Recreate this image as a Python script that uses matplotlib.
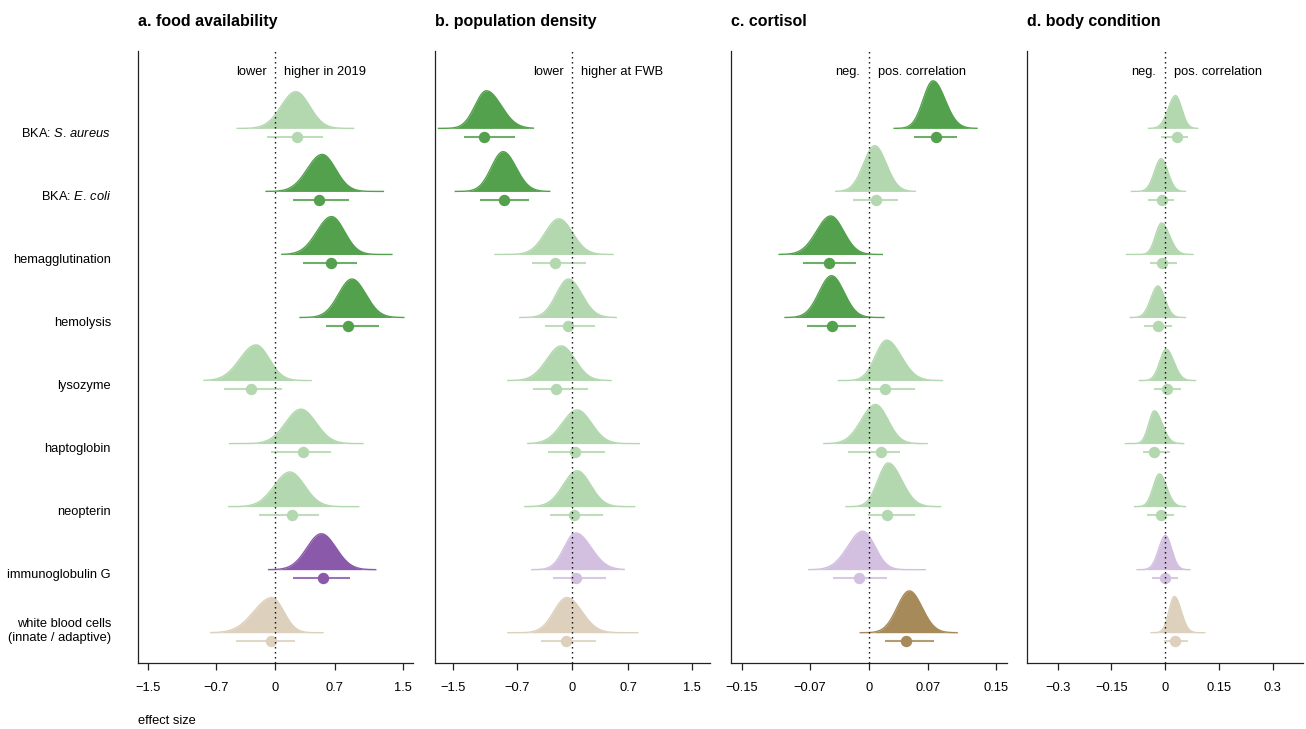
import numpy as np
import matplotlib
matplotlib.use("Agg")
import matplotlib.pyplot as plt

plt.rcParams['font.family'] = ['Liberation Sans', 'DejaVu Sans']
plt.rcParams['mathtext.fontset'] = 'custom'
plt.rcParams['mathtext.rm'] = 'Liberation Sans'
plt.rcParams['mathtext.it'] = 'Liberation Sans:italic'

# rows, top to bottom
labels = [r'BKA: $\mathit{S}$. $\mathit{aureus}$', r'BKA: $\mathit{E}$. $\mathit{coli}$',
          'hemagglutination', 'hemolysis', 'lysozyme', 'haptoglobin', 'neopterin',
          'immunoglobulin G', 'white blood cells\n(innate / adaptive)']
groups = ['green'] * 7 + ['purple', 'brown']

titles = ['a. food availability', 'b. population density', 'c. cortisol', 'd. body condition']
left_notes = ['lower', 'lower', 'neg.', 'neg.']
right_notes = ['higher in 2019', 'higher at FWB', 'pos. correlation', 'pos. correlation']

# posterior estimates (dot), 95% interval, density peak and sample range
food_est = [0.25, 0.51, 0.65, 0.85, -0.29, 0.32, 0.19, 0.565, -0.05]
food_lo = [-0.10, 0.205, 0.32, 0.59, -0.60, -0.054, -0.19, 0.205, -0.46]
food_hi = [0.56, 0.86, 0.96, 1.22, 0.08, 0.65, 0.51, 0.88, 0.23]
food_peak = [0.24, 0.55, 0.66, 0.90, -0.23, 0.30, 0.17, 0.54, -0.04]
food_min = [-0.45, -0.11, 0.075, 0.29, -0.84, -0.54, -0.55, -0.08, -0.76]
food_max = [0.92, 1.27, 1.37, 1.51, 0.42, 1.03, 0.98, 1.18, 0.56]

dens_est = [-1.11, -0.86, -0.22, -0.06, -0.21, 0.03, 0.02, 0.04, -0.075]
dens_lo = [-1.36, -1.16, -0.51, -0.35, -0.50, -0.31, -0.285, -0.24, -0.39]
dens_hi = [-0.715, -0.55, 0.17, 0.28, 0.20, 0.41, 0.39, 0.42, 0.30]
dens_peak = [-1.08, -0.87, -0.17, -0.05, -0.14, 0.06, 0.06, 0.04, -0.07]
dens_min = [-1.68, -1.47, -0.97, -0.66, -0.81, -0.56, -0.60, -0.51, -0.81]
dens_max = [-0.49, -0.285, 0.51, 0.55, 0.485, 0.84, 0.78, 0.65, 0.82]

cort_est = [0.080, 0.009, -0.047, -0.044, 0.019, 0.015, 0.022, -0.012, 0.044]
cort_lo = [0.053, -0.019, -0.078, -0.073, -0.005, -0.025, -0.001, -0.042, 0.0195]
cort_hi = [0.104, 0.034, -0.015, -0.015, 0.055, 0.037, 0.0545, 0.021, 0.0775]
cort_peak = [0.076, 0.007, -0.045, -0.044, 0.021, 0.008, 0.023, -0.007, 0.048]
cort_min = [0.030, -0.039, -0.106, -0.099, -0.036, -0.053, -0.027, -0.071, -0.010]
cort_max = [0.128, 0.055, 0.016, 0.018, 0.087, 0.069, 0.085, 0.067, 0.1045]

body_est = [0.032, -0.008, -0.010, -0.020, 0.006, -0.030, -0.011, 0.0, 0.029]
body_lo = [-0.011, -0.048, -0.043, -0.059, -0.032, -0.061, -0.050, -0.036, -0.004]
body_hi = [0.063, 0.026, 0.034, 0.018, 0.045, 0.013, 0.024, 0.035, 0.063]
body_peak = [0.029, -0.011, -0.010, -0.020, 0.003, -0.030, -0.016, 0.001, 0.026]
body_min = [-0.046, -0.094, -0.108, -0.097, -0.072, -0.111, -0.085, -0.078, -0.039]
body_max = [0.091, 0.057, 0.078, 0.057, 0.085, 0.052, 0.057, 0.069, 0.111]

panels = [
    (food_est, food_lo, food_hi, food_peak, food_min, food_max),
    (dens_est, dens_lo, dens_hi, dens_peak, dens_min, dens_max),
    (cort_est, cort_lo, cort_hi, cort_peak, cort_min, cort_max),
    (body_est, body_lo, body_hi, body_peak, body_min, body_max),
]

tick_vals = [[-1.5, -0.7, 0, 0.7, 1.5], [-1.5, -0.7, 0, 0.7, 1.5],
             [-0.15, -0.07, 0, 0.07, 0.15], [-0.3, -0.15, 0, 0.15, 0.3]]
tick_labels = [['\u22121.5', '\u22120.7', '0', '0.7', '1.5'],
               ['\u22121.5', '\u22120.7', '0', '0.7', '1.5'],
               ['\u22120.15', '\u22120.07', '0', '0.07', '0.15'],
               ['\u22120.3', '\u22120.15', '0', '0.15', '0.3']]
xlims = [1.621, 1.729, 0.1629, 0.3846]
dens_scale = [0.246, 0.246, 0.0246, 0.0246]

colors = {
    'green': ('#53a04d', '#b3d8af'),
    'purple': ('#8a59a9', '#d3bfe0'),
    'brown': ('#a68a5a', '#ddd1bd'),
}

n = len(labels)
row_y = np.arange(n)[::-1].astype(float)
base_off = 0.132

fig = plt.figure(figsize=(13.06, 7.29), dpi=100)
lefts = [0.1054, 0.3328, 0.5597, 0.7866]

for p, (est, lo, hi, peak, tmin, tmax) in enumerate(panels):
    ax = fig.add_axes([lefts[p], 0.0905, 0.211, 0.84])
    for i in range(n):
        sig = lo[i] > 0 or hi[i] < 0
        c = colors[groups[i]][0 if sig else 1]
        y = row_y[i]
        # density ridge (split normal from the interval)
        sl = (peak[i] - lo[i]) / 1.96
        sr = (hi[i] - peak[i]) / 1.96
        x = np.linspace(tmin[i], tmax[i], 400)
        s = np.where(x < peak[i], sl, sr)
        d = 2 / (np.sqrt(2 * np.pi) * (sl + sr)) * np.exp(-0.5 * ((x - peak[i]) / s) ** 2)
        top = y + base_off + d * dens_scale[p]
        ax.fill_between(x, y + base_off, top, color=c, lw=0, zorder=2)
        ax.plot(x, top, color=c, lw=1.0, zorder=2)
        # interval and estimate
        ax.plot([lo[i], hi[i]], [y, y], color=c, lw=1.5, alpha=0.85,
                solid_capstyle='butt', zorder=3)
        ax.plot(est[i], y, 'o', color=c, ms=8.2, mec='none', zorder=4)

    ax.axvline(0, color='black', lw=1.0, ls=(0, (1, 2.6)), zorder=5)
    ax.set_xlim(-xlims[p], xlims[p])
    ax.set_ylim(-0.349, 9.365)
    ax.set_xticks(tick_vals[p])
    ax.set_xticklabels(tick_labels[p])
    ax.set_yticks([])
    for side in ['top', 'right']:
        ax.spines[side].set_visible(False)
    for side in ['left', 'bottom']:
        ax.spines[side].set_linewidth(0.9)
        ax.spines[side].set_color('#222222')
    ax.tick_params(axis='x', direction='out', length=5.3, width=0.9,
                   labelsize=9.3, pad=8.5, color='#222222')

    ax.text(0, 1.041, titles[p], transform=ax.transAxes, fontsize=11.5,
            fontweight='bold', ha='left', va='baseline')
    ax.annotate(left_notes[p], xy=(0, 9.03), xytext=(-6.3, 0),
                textcoords='offset points', ha='right', va='center', fontsize=9.3)
    ax.annotate(right_notes[p], xy=(0, 9.03), xytext=(6.3, 0),
                textcoords='offset points', ha='left', va='center', fontsize=9.3)

    if p == 0:
        for i in range(n):
            if '\n' in labels[i]:
                ax.text(-0.097, row_y[i] + 0.16, labels[i], transform=ax.get_yaxis_transform(),
                        ha='right', va='center', fontsize=9.3, linespacing=1.15)
            else:
                ax.text(-0.097, row_y[i] + 0.05, labels[i], transform=ax.get_yaxis_transform(),
                        ha='right', va='center', fontsize=9.3)

fig.text(0.1054, 0.011, 'effect size', ha='left', va='center', fontsize=9.3)

fig.savefig('out.png', dpi=100)
